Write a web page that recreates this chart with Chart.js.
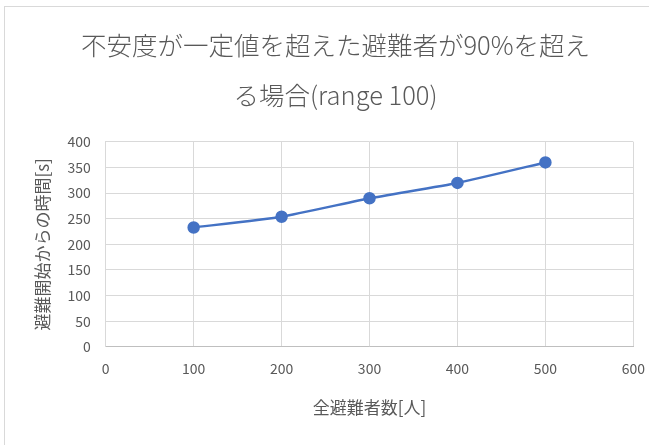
<!DOCTYPE html>
<html>
<head>
<meta charset="utf-8">
<script src="https://cdn.jsdelivr.net/npm/chart.js@4"></script>
<style>
  html, body { margin: 0; padding: 0; background: #fff; overflow: hidden; }
  #wrap { position: absolute; left: 4px; top: 6px; width: 645px; height: 439px; border-left: 1px solid #d9d9d9; border-top: 1px solid #d9d9d9; box-sizing: border-box; overflow: hidden; }
  #chart { position: absolute; left: 0; top: 0; }
</style>
</head>
<body>
<div id="wrap"><canvas id="chart" width="653" height="438"></canvas></div>
<script>
const titleLines = ['不安度が一定値を超えた避難者が90%を超え', 'る場合(range 100)'];
const xTitle = '全避難者数[人]';
const yTitle = '避難開始からの時間[s]';

// evacuee count vs. elapsed time
const evacuees = [100, 200, 300, 400, 500];
const seconds = [233, 254, 290, 320, 360];

const grey = '#595959';
const blue = '#4472C4';
const font = '"Noto Sans CJK JP", "Noto Sans", sans-serif';

new Chart(document.getElementById('chart'), {
    type: 'scatter',
    data: {
        datasets: [{
            data: evacuees.map((x, i) => ({ x: x, y: seconds[i] })),
            showLine: true,
            borderColor: blue,
            backgroundColor: blue,
            borderWidth: 2.5,
            pointRadius: 5,
            pointHoverRadius: 5,
            tension: 0.15
        }]
    },
    options: {
        responsive: false,
        animation: false,
        layout: { padding: { left: 23, right: 15, top: 0, bottom: 23 } },
        plugins: {
            legend: { display: false },
            tooltip: { enabled: false },
            title: {
                display: true,
                text: titleLines,
                color: grey,
                font: { family: font, size: 25.5, weight: '300', lineHeight: 1.96 },
                padding: { top: 13, bottom: 22 }
            }
        },
        scales: {
            x: {
                type: 'linear',
                min: 0, max: 600,
                ticks: { stepSize: 100, color: grey, font: { family: font, size: 14 }, padding: 13 },
                grid: { color: '#d9d9d9', drawTicks: false },
                border: { color: '#bfbfbf' },
                title: { display: true, text: xTitle, color: grey, font: { family: font, size: 17 }, padding: { top: 8, bottom: 4 } }
            },
            y: {
                min: 0, max: 400,
                ticks: { stepSize: 50, color: grey, font: { family: font, size: 14 }, padding: 15 },
                grid: { color: '#d9d9d9', drawTicks: false },
                border: { color: '#d9d9d9' },
                title: { display: true, text: yTitle, color: grey, font: { family: font, size: 17 }, padding: { top: 4, bottom: 0 } }
            }
        }
    }
});
</script>
</body>
</html>
